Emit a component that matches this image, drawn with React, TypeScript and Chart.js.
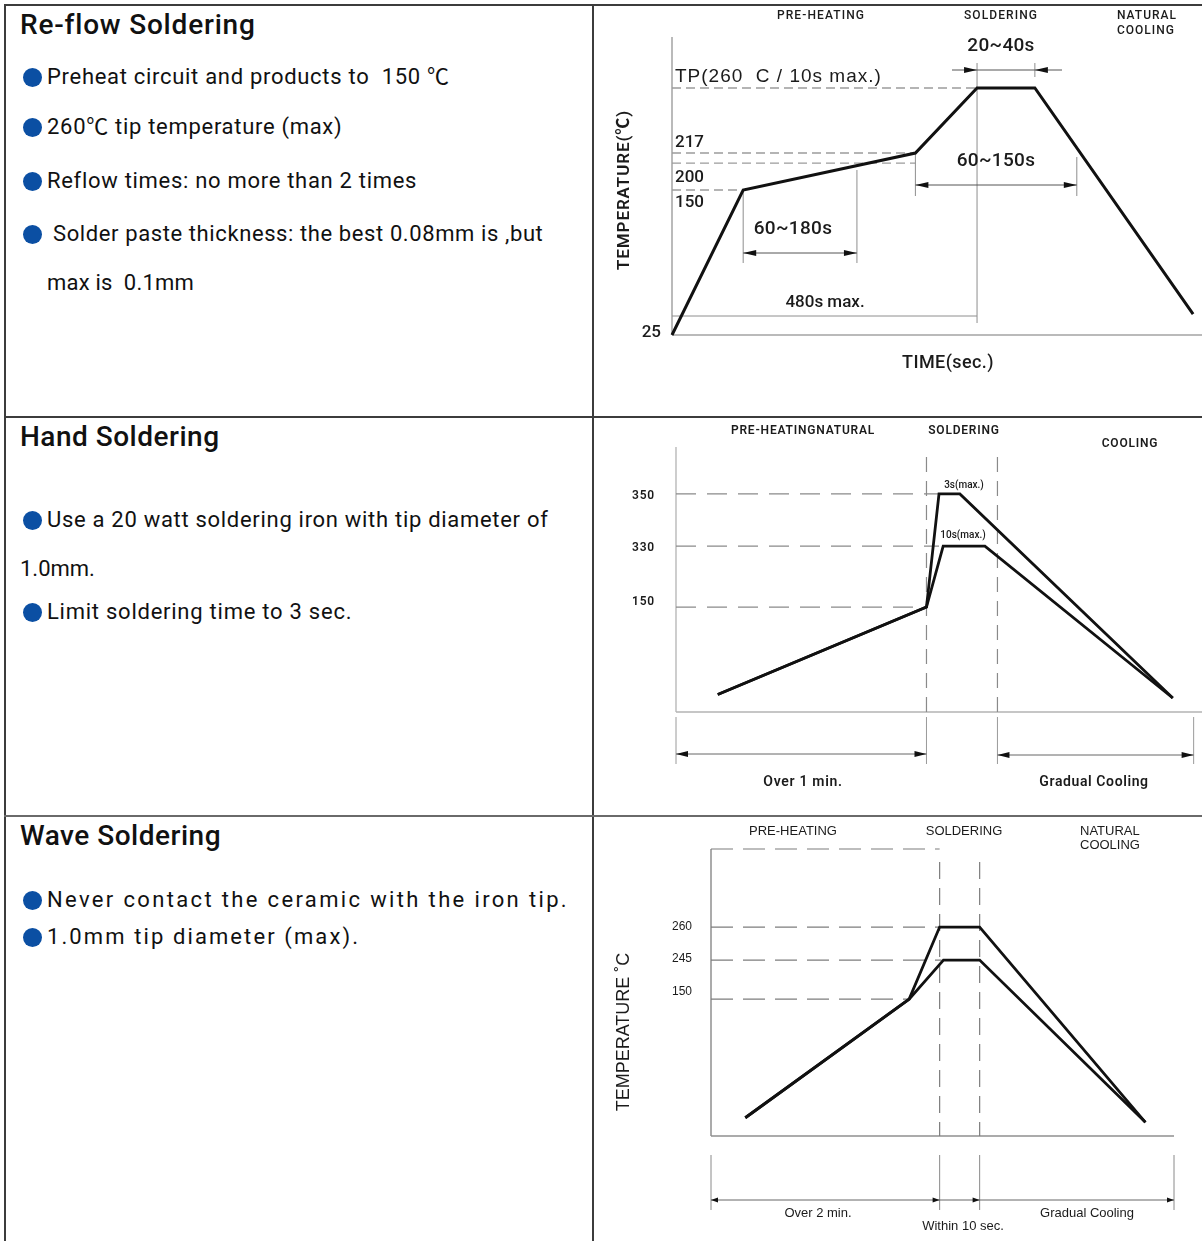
import React, { useEffect, useRef } from 'react';
import { Chart, LinearScale, registerables } from 'chart.js';

Chart.register(...registerables);

// ---------------- data ----------------
// Re-flow soldering profile (time in s, temperature in °C)
const reflowTime = [0, 112, 383, 480, 571, 820];
const reflowTemp = [25, 150, 217, 260, 260, 43];
const reflowPreheatSpan = [112, 291]; // 60~180s
const reflowLiquidSpan = [383, 637]; // 60~150s
const reflowPeakSpan = [480, 571]; // 20~40s
const reflowTotal = 480; // 480s max.
const reflowTickLabels = ['25', '150', '200', '217'];

// Hand soldering profile
const handPeakTime = [10, 60, 63, 68, 119];
const handPeakTemp = [25, 150, 350, 350, 20];
const handHoldTime = [10, 60, 64, 74, 119];
const handHoldTemp = [25, 150, 330, 330, 20];
const handMarks = [0, 60, 77, 124];
const handTickLabels = ['350', '330', '150'];

// Wave soldering profile
const wavePeakTime = [18, 104, 120, 141, 228];
const wavePeakTemp = [20, 150, 260, 260, 15];
const waveLowTime = [18, 104, 122, 141, 228];
const waveLowTemp = [20, 150, 245, 245, 15];
const waveMarks = [0, 120, 141, 243];
const waveTickLabels = ['260', '245', '150'];

// ---------------- schematic (piece-wise) temperature scale ----------------
function makeKneeScale(id: string, knots: number[][]) {
  const toFrac = (v: number) => {
    if (v <= knots[0][0]) return knots[0][1];
    for (let i = 1; i < knots.length; i++) {
      if (v <= knots[i][0]) {
        const [v0, f0] = knots[i - 1];
        const [v1, f1] = knots[i];
        return f0 + ((v - v0) / (v1 - v0)) * (f1 - f0);
      }
    }
    return knots[knots.length - 1][1];
  };
  const fromFrac = (f: number) => {
    if (f <= knots[0][1]) return knots[0][0];
    for (let i = 1; i < knots.length; i++) {
      if (f <= knots[i][1]) {
        const [v0, f0] = knots[i - 1];
        const [v1, f1] = knots[i];
        return v0 + ((f - f0) / (f1 - f0)) * (v1 - v0);
      }
    }
    return knots[knots.length - 1][0];
  };
  class KneeScale extends (LinearScale as any) {
    static id = id;
    static defaults = (LinearScale as any).defaults;
    getPixelForValue(value: number) {
      return (this as any).getPixelForDecimal(toFrac(value));
    }
    getValueForPixel(pixel: number) {
      return fromFrac((this as any).getDecimalForPixel(pixel));
    }
  }
  Chart.register(KneeScale as any);
}

makeKneeScale('kneeReflow', [[25, 0], [150, 0.4866], [200, 0.577], [217, 0.6107], [260, 0.8289], [300, 1]]);
makeKneeScale('kneeHand', [[0, 0], [150, 0.396], [330, 0.626], [350, 0.823], [400, 1]]);
makeKneeScale('kneeWave', [[0, 0], [150, 0.477], [245, 0.613], [260, 0.728], [300, 1]]);

// ---------------- drawing helpers ----------------
const DIN = "Roboto, 'Noto Sans CJK SC', sans-serif";
const ARIAL = "'Liberation Sans', Arial, sans-serif";
const INK = '#1b1b1b';

function seg(ctx: CanvasRenderingContext2D, x1: number, y1: number, x2: number, y2: number, color: string, w: number, dash: number[] = []) {
  ctx.save();
  ctx.strokeStyle = color;
  ctx.lineWidth = w;
  ctx.setLineDash(dash);
  ctx.beginPath();
  ctx.moveTo(x1, y1);
  ctx.lineTo(x2, y2);
  ctx.stroke();
  ctx.restore();
}
function head(ctx: CanvasRenderingContext2D, x: number, y: number, dir: number, len = 11, half = 3.5, color = '#111') {
  ctx.save();
  ctx.fillStyle = color;
  ctx.beginPath();
  ctx.moveTo(x, y);
  ctx.lineTo(x - dir * len, y - half);
  ctx.lineTo(x - dir * len, y + half);
  ctx.closePath();
  ctx.fill();
  ctx.restore();
}
function txt(ctx: CanvasRenderingContext2D, s: string, x: number, y: number, font: string, align: CanvasTextAlign = 'center', spacing = 0, rotate = 0, color = INK) {
  ctx.save();
  ctx.font = font;
  ctx.fillStyle = color;
  ctx.textAlign = align;
  ctx.textBaseline = 'middle';
  (ctx as any).letterSpacing = spacing + 'px';
  if (rotate) {
    ctx.translate(x, y);
    ctx.rotate(rotate);
    ctx.fillText(s, 0, 0);
  } else {
    ctx.fillText(s, x, y);
  }
  ctx.restore();
}

function lineDataset(xs: number[], ys: number[], w: number) {
  return {
    data: xs.map((x, i) => ({ x, y: ys[i] })),
    borderColor: '#111',
    borderWidth: w,
    pointRadius: 0,
    tension: 0,
    fill: false,
    clip: false as any,
    borderJoinStyle: 'miter' as const,
    borderCapStyle: 'butt' as const,
  };
}

function baseOptions(padding: any, xMax: number, yType: string, yMin: number, yMax: number) {
  return {
    animation: false as const,
    responsive: false,
    maintainAspectRatio: false,
    events: [] as any[],
    layout: { padding },
    plugins: { legend: { display: false }, tooltip: { enabled: false } },
    scales: {
      x: { type: 'linear', min: 0, max: xMax, display: false },
      y: { type: yType, min: yMin, max: yMax, display: false },
    },
  } as any;
}

// ---------------- chart configs ----------------
function reflowConfig(): any {
  const ox = 594, oy = 6;
  const px = (x: number) => x - ox, py = (y: number) => y - oy;
  const plugin = {
    id: 'reflowAnnot',
    beforeDatasetsDraw(chart: any) {
      const ctx = chart.ctx as CanvasRenderingContext2D;
      const X = (v: number) => chart.scales.x.getPixelForValue(v);
      const Y = (v: number) => chart.scales.y.getPixelForValue(v);
      const AX = '#a3a3a3', DASH = '#9c9c9c', THIN = '#8e8e8e';
      const [, l150, l200, l217] = reflowTickLabels.map(Number);
      // axes
      seg(ctx, X(0), Y(300), X(0), Y(25), AX, 1.5);
      seg(ctx, X(0), Y(25), X(834), Y(25), AX, 1.5);
      // reference levels
      seg(ctx, X(0), Y(260), X(reflowPeakSpan[0]), Y(260), DASH, 1.3, [9, 5]);
      seg(ctx, X(0), Y(l217), X(reflowLiquidSpan[0]), Y(l217), DASH, 1.3, [9, 5]);
      seg(ctx, X(0), Y(l200), X(reflowLiquidSpan[0]), Y(l200), DASH, 1.3, [9, 5]);
      seg(ctx, X(0), Y(l150), X(reflowPreheatSpan[0]), Y(l150), DASH, 1.3, [9, 5]);
      // 480s max
      seg(ctx, X(reflowTotal), py(63), X(reflowTotal), py(323), THIN, 1);
      seg(ctx, X(0), py(316), X(reflowTotal), py(316), THIN, 1);
      // 20~40s
      seg(ctx, X(reflowPeakSpan[1]), py(63), X(reflowPeakSpan[1]), py(77), THIN, 1);
      seg(ctx, px(952), py(70), px(1062), py(70), '#555', 1);
      head(ctx, X(reflowPeakSpan[0]), py(70), 1, 13, 3);
      head(ctx, X(reflowPeakSpan[1]), py(70), -1, 13, 3);
      // 60~180s
      seg(ctx, X(reflowPreheatSpan[0]), Y(l150), X(reflowPreheatSpan[0]), py(263), THIN, 1);
      seg(ctx, X(reflowPreheatSpan[1]), py(170), X(reflowPreheatSpan[1]), py(263), THIN, 1);
      seg(ctx, X(reflowPreheatSpan[0]), py(253), X(reflowPreheatSpan[1]), py(253), '#555', 1);
      head(ctx, X(reflowPreheatSpan[0]), py(253), -1, 13, 3);
      head(ctx, X(reflowPreheatSpan[1]), py(253), 1, 13, 3);
      // 60~150s
      seg(ctx, X(reflowLiquidSpan[0]), Y(l217), X(reflowLiquidSpan[0]), py(196), THIN, 1);
      seg(ctx, X(reflowLiquidSpan[1]), py(157), X(reflowLiquidSpan[1]), py(196), THIN, 1);
      seg(ctx, X(reflowLiquidSpan[0]), py(185), X(reflowLiquidSpan[1]), py(185), '#555', 1);
      head(ctx, X(reflowLiquidSpan[0]), py(185), -1, 13, 3);
      head(ctx, X(reflowLiquidSpan[1]), py(185), 1, 13, 3);

      // texts
      txt(ctx, 'PRE-HEATING', px(821), py(16), `500 12px ${DIN}`, 'center', 1.1);
      txt(ctx, 'SOLDERING', px(1001), py(16), `500 12px ${DIN}`, 'center', 1.1);
      txt(ctx, 'NATURAL', px(1117), py(16), `500 12px ${DIN}`, 'left', 1);
      txt(ctx, 'COOLING', px(1117), py(31), `500 12px ${DIN}`, 'left', 1);
      txt(ctx, '20~40s', px(1001), py(46), `500 19px ${DIN}`, 'center', 0.3);
      txt(ctx, 'TP(260  C / 10s max.)', px(675), py(77), `19px ${ARIAL}`, 'left', 1.0);
      txt(ctx, reflowTickLabels[3], px(675), Y(l217) - 10, `500 17px ${DIN}`, 'left');
      txt(ctx, reflowTickLabels[2], px(675), Y(l200) + 15, `500 17px ${DIN}`, 'left');
      txt(ctx, reflowTickLabels[1], px(675), Y(l150) + 13, `500 17px ${DIN}`, 'left');
      txt(ctx, reflowTickLabels[0], px(661), Y(25) - 2, `500 17px ${DIN}`, 'right');
      txt(ctx, '60~150s', px(996), py(161), `500 19px ${DIN}`, 'center', 0.3);
      txt(ctx, '60~180s', px(793), py(229), `500 19px ${DIN}`, 'center', 0.3);
      txt(ctx, '480s max.', px(825), py(303), `500 17px ${DIN}`);
      txt(ctx, 'TIME(sec.)', px(948), py(363), `500 18px ${DIN}`, 'center', 0.4);
      txt(ctx, 'TEMPERATURE(℃)', px(625), py(190), `600 17px ${DIN}`, 'center', 0.9, -Math.PI / 2);
    },
  };
  return {
    type: 'line',
    data: { datasets: [lineDataset(reflowTime, reflowTemp, 3)] },
    options: baseOptions({ left: 78, right: 0, top: 31, bottom: 81 }, 834, 'kneeReflow', 25, 300),
    plugins: [plugin],
  };
}

function handConfig(): any {
  const ox = 594, oy = 418;
  const px = (x: number) => x - ox, py = (y: number) => y - oy;
  const plugin = {
    id: 'handAnnot',
    beforeDatasetsDraw(chart: any) {
      const ctx = chart.ctx as CanvasRenderingContext2D;
      const X = (v: number) => chart.scales.x.getPixelForValue(v);
      const Y = (v: number) => chart.scales.y.getPixelForValue(v);
      const AX = '#b3b3b3', DASH = '#8a8a8a';
      const [t350, t330, t150] = handTickLabels.map(Number);
      const [m0, m1, m2, m3] = handMarks;
      seg(ctx, X(0), py(447), X(0), Y(0), AX, 1.3);
      seg(ctx, X(0), Y(0), X(126), Y(0), AX, 1.3);
      seg(ctx, X(0), Y(t350), X(63), Y(t350), DASH, 1.2, [20, 11]);
      seg(ctx, X(0), Y(t330), X(63), Y(t330), DASH, 1.2, [20, 11]);
      seg(ctx, X(0), Y(t150), X(m1), Y(t150), DASH, 1.2, [20, 11]);
      seg(ctx, X(m1), py(457), X(m1), Y(0), DASH, 1.2, [15, 9]);
      seg(ctx, X(m2), py(457), X(m2), Y(0), DASH, 1.2, [15, 9]);
      for (const m of handMarks) seg(ctx, X(m), py(717), X(m), py(764), '#9a9a9a', 1);
      seg(ctx, X(m0), py(754), X(m1), py(754), '#666', 1);
      head(ctx, X(m0), py(754), -1, 12, 3);
      head(ctx, X(m1), py(754), 1, 12, 3);
      seg(ctx, X(m2), py(755), X(m3), py(755), '#666', 1);
      head(ctx, X(m2), py(755), -1, 12, 3);
      head(ctx, X(m3), py(755), 1, 12, 3);

      txt(ctx, 'PRE-HEATINGNATURAL', px(803), py(431), `600 12px ${DIN}`, 'center', 0.8);
      txt(ctx, 'SOLDERING', px(964), py(431), `600 12px ${DIN}`, 'center', 0.8);
      txt(ctx, 'COOLING', px(1130), py(444), `600 12px ${DIN}`, 'center', 0.8);
      txt(ctx, handTickLabels[0], px(632), Y(t350) + 2, `600 12px ${DIN}`, 'left', 0.8);
      txt(ctx, handTickLabels[1], px(632), Y(t330) + 2, `600 12px ${DIN}`, 'left', 0.8);
      txt(ctx, handTickLabels[2], px(632), Y(t150) - 5, `600 12px ${DIN}`, 'left', 0.8);
      txt(ctx, '3s(max.)', px(964), py(485), `500 10px ${DIN}`);
      txt(ctx, '10s(max.)', px(963), py(535), `500 10px ${DIN}`);
      txt(ctx, 'Over 1 min.', px(803), py(782), `600 14px ${DIN}`, 'center', 0.7);
      txt(ctx, 'Gradual Cooling', px(1094), py(782), `600 14px ${DIN}`, 'center', 0.6);
    },
  };
  return {
    type: 'line',
    data: { datasets: [lineDataset(handPeakTime, handPeakTemp, 2.8), lineDataset(handHoldTime, handHoldTemp, 2.8)] },
    options: baseOptions({ left: 82, right: 0, top: 29, bottom: 103 }, 126, 'kneeHand', 0, 400),
    plugins: [plugin],
  };
}

function waveConfig(): any {
  const ox = 594, oy = 817;
  const px = (x: number) => x - ox, py = (y: number) => y - oy;
  const plugin = {
    id: 'waveAnnot',
    beforeDatasetsDraw(chart: any) {
      const ctx = chart.ctx as CanvasRenderingContext2D;
      const X = (v: number) => chart.scales.x.getPixelForValue(v);
      const Y = (v: number) => chart.scales.y.getPixelForValue(v);
      const AX = '#8f8f8f', DASH = '#7d7d7d';
      const [t260, t245, t150] = waveTickLabels.map(Number);
      const [m0, m1, m2, m3] = waveMarks;
      seg(ctx, X(0), Y(300), X(0), Y(0), AX, 1.5);
      seg(ctx, X(0), Y(0), X(m3), Y(0), AX, 1.5);
      seg(ctx, X(0), Y(300), X(m1), Y(300), DASH, 1.2, [22, 10]);
      seg(ctx, X(0), Y(t260), X(m1), Y(t260), DASH, 1.2, [22, 10]);
      seg(ctx, X(0), Y(t245), X(121), Y(t245), DASH, 1.2, [22, 10]);
      seg(ctx, X(0), Y(t150), X(104), Y(t150), DASH, 1.2, [22, 10]);
      seg(ctx, X(m1), py(862), X(m1), Y(0), DASH, 1.2, [17, 9]);
      seg(ctx, X(m2), py(862), X(m2), Y(0), DASH, 1.2, [17, 9]);
      for (const m of waveMarks) seg(ctx, X(m), py(1155), X(m), py(1210), '#8a8a8a', 1);
      seg(ctx, X(m0), py(1200), X(m3), py(1200), '#666', 1);
      head(ctx, X(m0), py(1200), -1, 7, 2.5);
      head(ctx, X(m1), py(1200), 1, 7, 2.5);
      head(ctx, X(m2), py(1200), 1, 7, 2.5);
      head(ctx, X(m3), py(1200), 1, 7, 2.5);

      txt(ctx, 'PRE-HEATING', px(793), py(831), `13px ${ARIAL}`);
      txt(ctx, 'SOLDERING', px(964), py(831), `13px ${ARIAL}`);
      txt(ctx, 'NATURAL', px(1080), py(831), `13px ${ARIAL}`, 'left');
      txt(ctx, 'COOLING', px(1080), py(845), `13px ${ARIAL}`, 'left');
      txt(ctx, waveTickLabels[0], px(672), Y(t260), `12px ${ARIAL}`, 'left');
      txt(ctx, waveTickLabels[1], px(672), Y(t245) - 1, `12px ${ARIAL}`, 'left');
      txt(ctx, waveTickLabels[2], px(672), Y(t150) - 7, `12px ${ARIAL}`, 'left');
      txt(ctx, 'TEMPERATURE ˚C', px(624), py(1032), `18px ${ARIAL}`, 'center', 0, -Math.PI / 2);
      txt(ctx, 'Over 2 min.', px(818), py(1213), `13px ${ARIAL}`);
      txt(ctx, 'Within 10 sec.', px(963), py(1226), `13px ${ARIAL}`);
      txt(ctx, 'Gradual Cooling', px(1087), py(1213), `13px ${ARIAL}`);
    },
  };
  return {
    type: 'line',
    data: { datasets: [lineDataset(wavePeakTime, wavePeakTemp, 2.8), lineDataset(waveLowTime, waveLowTemp, 2.8)] },
    options: baseOptions({ left: 117, right: 28, top: 32, bottom: 105 }, 243, 'kneeWave', 0, 300),
    plugins: [plugin],
  };
}

// ---------------- components ----------------
function ChartCanvas({ make, left, top, width, height }: { make: () => any; left: number; top: number; width: number; height: number }) {
  const ref = useRef<HTMLCanvasElement>(null);
  useEffect(() => {
    const chart = new Chart(ref.current as HTMLCanvasElement, make());
    return () => chart.destroy();
  }, [make]);
  return (
    <canvas
      ref={ref}
      width={width}
      height={height}
      style={{ position: 'absolute', left, top, width, height, display: 'block' }}
    />
  );
}

type TextLine = { text: string; x: number; cy: number; size: number; weight?: number; spacing?: number; bullet?: boolean };

const textLines: TextLine[] = [
  { text: 'Re-flow Soldering', x: 20, cy: 25, size: 28, weight: 500, spacing: 0.8 },
  { text: 'Preheat circuit and products to  150 ℃', x: 47, cy: 77, size: 22, spacing: 0.7, bullet: true },
  { text: '260℃ tip temperature (max)', x: 47, cy: 127, size: 22, spacing: 0.7, bullet: true },
  { text: 'Reflow times: no more than 2 times', x: 47, cy: 181, size: 22, spacing: 0.7, bullet: true },
  { text: ' Solder paste thickness: the best 0.08mm is ,but', x: 47, cy: 234, size: 22, spacing: 0.6, bullet: true },
  { text: 'max is  0.1mm', x: 47, cy: 283, size: 22, spacing: 0.2 },
  { text: 'Hand Soldering', x: 20, cy: 437, size: 28, weight: 500, spacing: 0.5 },
  { text: 'Use a 20 watt soldering iron with tip diameter of', x: 47, cy: 520, size: 22, spacing: 0.7, bullet: true },
  { text: '1.0mm.', x: 20, cy: 569, size: 22, spacing: 0 },
  { text: 'Limit soldering time to 3 sec.', x: 47, cy: 612, size: 22, spacing: 0.75, bullet: true },
  { text: 'Wave Soldering', x: 20, cy: 836, size: 28, weight: 500, spacing: 0.5 },
  { text: 'Never contact the ceramic with the iron tip.', x: 47, cy: 900, size: 22, spacing: 2.35, bullet: true },
  { text: '1.0mm tip diameter (max).', x: 47, cy: 937, size: 22, spacing: 2.1, bullet: true },
];

const BORDER = '#3c3c3c';

export default function App() {
  return (
    <div
      style={{
        position: 'absolute',
        left: 0,
        top: 0,
        width: 1202,
        height: 1241,
        overflow: 'hidden',
        background: '#fff',
        fontFamily: DIN,
        color: '#111',
      }}
    >
      {/* table borders */}
      <div style={{ position: 'absolute', left: 4, top: 4, width: 1198, height: 2, background: BORDER }} />
      <div style={{ position: 'absolute', left: 4, top: 4, width: 2, height: 1237, background: BORDER }} />
      <div style={{ position: 'absolute', left: 592, top: 4, width: 2, height: 1237, background: BORDER }} />
      <div style={{ position: 'absolute', left: 4, top: 416, width: 1198, height: 2, background: BORDER }} />
      <div style={{ position: 'absolute', left: 4, top: 815, width: 1198, height: 2, background: '#6a6a6a' }} />

      {textLines.map((l, i) => (
        <React.Fragment key={i}>
          {l.bullet && (
            <div
              style={{
                position: 'absolute',
                left: 23,
                top: l.cy - 9,
                width: 19,
                height: 19,
                borderRadius: '50%',
                background: '#0b4fa3',
              }}
            />
          )}
          <div
            style={{
              position: 'absolute',
              left: l.x,
              top: l.cy - l.size * 0.5,
              fontSize: l.size,
              lineHeight: `${l.size}px`,
              fontWeight: l.weight ?? 400,
              letterSpacing: l.spacing ?? 0,
              whiteSpace: 'pre',
            }}
          >
            {l.text}
          </div>
        </React.Fragment>
      ))}

      <ChartCanvas make={reflowConfig} left={594} top={6} width={608} height={410} />
      <ChartCanvas make={handConfig} left={594} top={418} width={608} height={397} />
      <ChartCanvas make={waveConfig} left={594} top={817} width={608} height={424} />
    </div>
  );
}
